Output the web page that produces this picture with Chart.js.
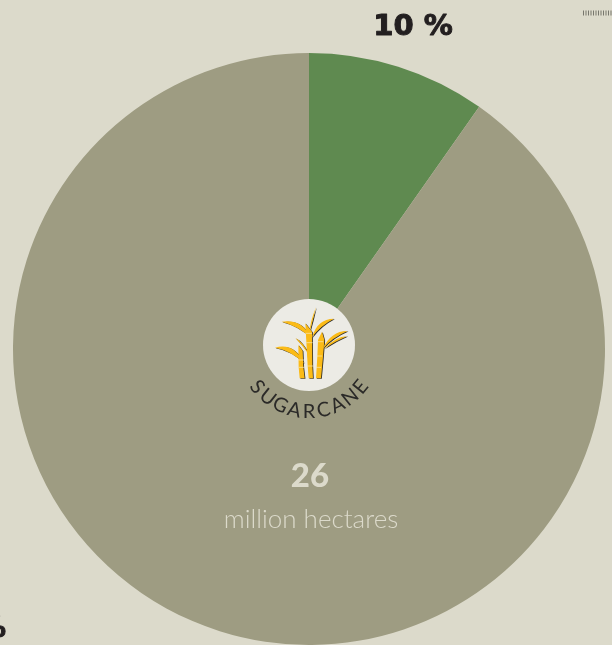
<!DOCTYPE html>
<html>
<head>
<meta charset="utf-8">
<title>Sugarcane</title>
<style>
    html, body { margin: 0; padding: 0; background: #dcdacb; overflow: hidden; }
    #pie { display: block; }
</style>
</head>
<body>
<canvas id="pie" width="612" height="645"></canvas>
<script src="https://cdn.jsdelivr.net/npm/chart.js@4/dist/chart.umd.min.js"></script>
<script>
// Data
const categories = ["Share", "Rest"];
const shares = [9.75, 90.25];
const shareColors = ["#5f8a50", "#9e9c82"];
const shareLabel = "10 %";
const restLabel = "90 %";
const cropName = "SUGARCANE";
const areaValue = "26";
const areaUnit = "million hectares";

const stems = [
    [[205, 195], [218, 212], [220, 262], [224, 295], [209, 295], [206, 262]],
    [[226, 130], [246, 155], [247, 258], [249, 295], [236, 295], [233, 258]],
    [[276, 155], [283, 180], [279, 230], [273, 295], [258, 295], [262, 230], [264, 180]]
];
// start, control, end, control back
const leaves = [
    [[258, 82], [240, 125], [238, 160], [248, 125]],
    [[155, 125], [218, 116], [240, 172], [205, 138]],
    [[312, 116], [262, 116], [246, 172], [272, 136]],
    [[135, 203], [192, 186], [222, 250], [184, 212]],
    [[353, 153], [304, 152], [278, 206], [308, 172]],
    [[196, 174], [218, 184], [236, 222], [220, 200]],
    [[352, 168], [316, 170], [282, 206], [316, 184]]
];

// Icon outlines are in a 480px box whose disc centre is at 237,195
function drawIcon(ctx, cx, cy) {
    const px = p => [cx + (p[0] - 237) / 3, cy + (p[1] - 195) / 3];
    const paint = (dx, dy, color) => {
        ctx.save();
        ctx.translate(dx, dy);
        ctx.fillStyle = color;
        leaves.forEach(l => {
            const [a, b, c, d] = l.map(px);
            ctx.beginPath();
            ctx.moveTo(a[0], a[1]);
            ctx.quadraticCurveTo(b[0], b[1], c[0], c[1]);
            ctx.quadraticCurveTo(d[0], d[1], a[0], a[1]);
            ctx.fill();
        });
        stems.forEach(s => {
            ctx.beginPath();
            s.map(px).forEach((p, i) => i ? ctx.lineTo(p[0], p[1]) : ctx.moveTo(p[0], p[1]));
            ctx.closePath();
            ctx.fill();
        });
        ctx.restore();
    };
    paint(0.8, 0.5, "#2b2a28");
    paint(0, 0, "#fbbb17");

    // Stem joints
    ctx.strokeStyle = "#fbe9b5";
    ctx.lineWidth = 0.7;
    [[205, 222, 240], [207, 224, 262], [226, 246, 160], [229, 248, 188], [232, 250, 258], [262, 280, 185], [259, 276, 228], [257, 273, 262]].forEach(j => {
        const a = px([j[0], j[2]]);
        const b = px([j[1], j[2]]);
        ctx.beginPath();
        ctx.moveTo(a[0], a[1]);
        ctx.lineTo(b[0], b[1]);
        ctx.stroke();
    });
}

function drawCurvedLabel(ctx, text, cx, cy, radius, spreadDeg) {
    ctx.font = '400 20px "Lato"';
    ctx.fillStyle = "#2b2a28";
    ctx.textAlign = "center";
    ctx.textBaseline = "alphabetic";
    const step = spreadDeg / (text.length - 1) * Math.PI / 180;
    [...text].forEach((ch, i) => {
        const a = -(spreadDeg / 2) * Math.PI / 180 + i * step;
        ctx.save();
        ctx.translate(cx + radius * Math.sin(a), cy + radius * Math.cos(a));
        ctx.rotate(-a);
        ctx.fillText(ch, 0, 0);
        ctx.restore();
    });
}

const labelsPlugin = {
    id: "labelsPlugin",
    afterDraw(chart) {
        const ctx = chart.ctx;
        const arc = chart.getDatasetMeta(0).data[0];
        const cx = arc.x;
        const cy = arc.y;

        // Center badge
        ctx.save();
        ctx.fillStyle = "#ecebe5";
        ctx.beginPath();
        ctx.arc(cx, cy - 4, 46, 0, Math.PI * 2);
        ctx.fill();
        drawIcon(ctx, cx, cy - 4);
        drawCurvedLabel(ctx, cropName, cx, cy - 4, 73, 102);

        ctx.textAlign = "center";
        ctx.textBaseline = "alphabetic";
        ctx.fillStyle = "#dcdacb";
        ctx.font = '900 33px "Lato"';
        ctx.fillText(areaValue, cx + 1, 487);
        ctx.font = '300 26px "Lato"';
        ctx.fillText(areaUnit, cx + 2, 528);

        ctx.fillStyle = "#231f20";
        ctx.strokeStyle = "#231f20";
        ctx.lineWidth = 1;
        ctx.lineJoin = "round";
        ctx.font = '700 29px "DejaVu Sans"';
        ctx.fillText(shareLabel, 413, 35);
        ctx.strokeText(shareLabel, 413, 35);
        ctx.textAlign = "right";
        ctx.fillText(restLabel, 6, 637);
        ctx.strokeText(restLabel, 6, 637);

        // Hatched mark, top right
        ctx.strokeStyle = "#77766c";
        ctx.lineWidth = 5;
        ctx.setLineDash([1, 1.5]);
        ctx.beginPath();
        ctx.moveTo(583, 13);
        ctx.lineTo(612, 13);
        ctx.stroke();
        ctx.restore();
    }
};

new Chart(document.getElementById("pie").getContext("2d"), {
    type: "pie",
    data: {
        labels: categories,
        datasets: [{
            data: shares,
            backgroundColor: shareColors,
            borderWidth: 0
        }]
    },
    options: {
        responsive: false,
        animation: false,
        layout: { padding: { left: 13, right: 7, top: 53, bottom: 0 } },
        plugins: {
            legend: { display: false },
            tooltip: { enabled: false }
        }
    },
    plugins: [labelsPlugin]
});
</script>
</body>
</html>
